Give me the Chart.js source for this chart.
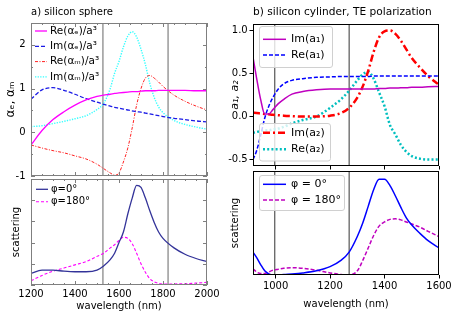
<!DOCTYPE html>
<html>
<head>
<meta charset="utf-8">
<script src="https://cdn.jsdelivr.net/npm/chart.js@4.4.0/dist/chart.umd.min.js"></script>
<style>
  html, body { margin: 0; padding: 0; background: #fff; }
  #wrap { position: relative; width: 452px; height: 315px; }
  #wrap canvas { position: absolute; left: 0; top: 0; }
</style>
</head>
<body>
<div id="wrap">
  <canvas id="sphereTop" width="452" height="315"></canvas>
  <canvas id="sphereScat" width="452" height="315"></canvas>
  <canvas id="cylTop" width="452" height="315"></canvas>
  <canvas id="cylScat" width="452" height="315"></canvas>
</div>
<script>
// a) silicon sphere, wavelength in nm
const sphereWl  = [1200, 1250, 1300, 1350, 1400, 1450, 1500, 1530, 1560, 1580, 1600, 1620, 1640, 1660, 1680, 1700, 1720, 1740, 1760, 1780, 1800, 1850, 1900, 1950, 2000];
const reAlphaE  = [-0.29, 0.04, 0.29, 0.47, 0.62, 0.74, 0.82, 0.85, 0.87, 0.89, 0.90, 0.91, 0.92, 0.93, 0.93, 0.94, 0.95, 0.95, 0.95, 0.96, 0.96, 0.96, 0.96, 0.95, 0.95];
const imAlphaE  = [0.76, 0.97, 1.02, 0.96, 0.87, 0.77, 0.69, 0.64, 0.60, 0.57, 0.55, 0.53, 0.51, 0.49, 0.47, 0.46, 0.44, 0.42, 0.40, 0.38, 0.36, 0.32, 0.29, 0.26, 0.24];
const reAlphaM  = [-0.29, -0.36, -0.42, -0.47, -0.54, -0.61, -0.73, -0.83, -0.93, -0.98, -0.93, -0.68, -0.36, 0.10, 0.62, 1.00, 1.24, 1.30, 1.24, 1.15, 1.05, 0.85, 0.71, 0.60, 0.51];
const imAlphaM  = [0.13, 0.15, 0.20, 0.25, 0.31, 0.38, 0.52, 0.66, 1.00, 1.35, 1.62, 1.95, 2.20, 2.30, 2.18, 1.90, 1.55, 1.12, 0.80, 0.58, 0.45, 0.27, 0.18, 0.12, 0.07];
const sphereScat0   = [0.11, 0.14, 0.14, 0.13, 0.125, 0.125, 0.14, 0.18, 0.24, 0.30, 0.40, 0.50, 0.67, 0.82, 0.94, 0.92, 0.82, 0.70, 0.59, 0.50, 0.44, 0.35, 0.29, 0.25, 0.22];
const sphereScat180 = [0.04, 0.09, 0.13, 0.16, 0.19, 0.22, 0.27, 0.30, 0.35, 0.38, 0.42, 0.45, 0.44, 0.39, 0.30, 0.20, 0.12, 0.06, 0.03, 0.015, 0.01, 0.01, 0.012, 0.018, 0.025];
const sphereMarks = [1527, 1823];
const sphereYTicks = [-1, 0, 1, 2];
const sphereXTicks = [1200, 1400, 1600, 1800, 2000];

// b) silicon cylinder, TE polarization
const cylWl = [917, 930, 945, 960, 975, 990, 1010, 1030, 1060, 1100, 1150, 1200, 1240, 1270, 1300, 1320, 1340, 1360, 1380, 1400, 1420, 1440, 1460, 1480, 1500, 1530, 1560, 1600];
const imA1  = [0.69, 0.45, 0.20, 0.03, 0.03, 0.08, 0.15, 0.20, 0.26, 0.29, 0.31, 0.32, 0.32, 0.32, 0.32, 0.32, 0.32, 0.32, 0.325, 0.325, 0.33, 0.33, 0.335, 0.335, 0.34, 0.34, 0.345, 0.35];
const reA1  = [-0.50, -0.40, -0.22, -0.02, 0.12, 0.22, 0.32, 0.38, 0.42, 0.44, 0.455, 0.46, 0.465, 0.465, 0.465, 0.465, 0.465, 0.47, 0.47, 0.47, 0.47, 0.47, 0.47, 0.47, 0.47, 0.47, 0.47, 0.47];
const imA2  = [0.045, 0.04, 0.035, 0.03, 0.025, 0.02, 0.015, 0.01, 0.005, 0.0, 0.0, 0.01, 0.04, 0.10, 0.22, 0.35, 0.53, 0.75, 0.92, 0.99, 1.00, 0.96, 0.88, 0.78, 0.68, 0.57, 0.47, 0.37];
const reA2  = [-0.19, -0.18, -0.17, -0.16, -0.16, -0.15, -0.14, -0.12, -0.08, -0.04, 0.00, 0.10, 0.20, 0.30, 0.42, 0.49, 0.52, 0.44, 0.28, 0.12, -0.10, -0.21, -0.33, -0.41, -0.46, -0.49, -0.50, -0.50];
const cylScat0   = [0.22, 0.17, 0.10, 0.04, 0.01, 0.0, 0.0, 0.005, 0.01, 0.02, 0.04, 0.08, 0.14, 0.22, 0.37, 0.50, 0.66, 0.82, 0.92, 0.92, 0.86, 0.76, 0.65, 0.55, 0.48, 0.40, 0.33, 0.26];
const cylScat180 = [0.06, 0.03, 0.015, 0.015, 0.03, 0.045, 0.055, 0.065, 0.07, 0.065, 0.045, 0.02, 0.005, 0.0, 0.04, 0.14, 0.26, 0.38, 0.47, 0.51, 0.535, 0.54, 0.53, 0.51, 0.49, 0.46, 0.42, 0.37];
const cylMarks = [997, 1270];
const cylYTicks = [-0.5, 0.0, 0.5, 1.0];
const cylXTicks = [1000, 1200, 1400, 1600];

Chart.defaults.color = '#000';
Chart.defaults.font.family = 'DejaVu Sans';

function pts(xs, ys) {
  return xs.map((x, i) => ({ x: x, y: ys[i] }));
}

function curve(label, ys, xs, color, width, dash) {
  return {
    label: label, data: pts(xs, ys), borderColor: color, borderWidth: width,
    borderDash: dash || [], pointRadius: 0, cubicInterpolationMode: 'monotone', fill: false
  };
}

function marks(xs, lo, hi, color) {
  return xs.map(x => ({
    label: '', data: [{ x: x, y: lo }, { x: x, y: hi }],
    borderColor: color, borderWidth: 1, pointRadius: 0, fill: false
  }));
}

// box around the plot area, optional inward (gnuplot style) ticks
const frame = {
  id: 'frame',
  afterDatasetsDraw(chart, args, o) {
    if (!o.color) return;
    const { ctx, chartArea: a } = chart;
    ctx.save();
    ctx.strokeStyle = o.color;
    ctx.lineWidth = 1;
    ctx.strokeRect(a.left + 0.5, a.top + 0.5, a.right - a.left - 1, a.bottom - a.top - 1);
    if (o.inner) {
      const x = chart.scales.x, y = chart.scales.y, t = o.inner;
      const major = (v, m) => Math.abs(v / m - Math.round(v / m)) < 1e-6;
      ctx.beginPath();
      for (let v = x.min; v <= x.max + 1e-6; v += t.xMinor) {
        const px = Math.round(x.getPixelForValue(v)) + 0.5;
        const len = major(v, t.xMajor) ? 4 : 2;
        ctx.moveTo(px, a.bottom); ctx.lineTo(px, a.bottom - len);
        ctx.moveTo(px, a.top); ctx.lineTo(px, a.top + len);
      }
      for (let v = Math.ceil(y.min / t.yMinor) * t.yMinor; v <= y.max + 1e-6; v += t.yMinor) {
        const py = Math.round(y.getPixelForValue(v)) + 0.5;
        const len = major(v, t.yMajor) ? 4 : 2;
        ctx.moveTo(a.left, py); ctx.lineTo(a.left + len, py);
        ctx.moveTo(a.right, py); ctx.lineTo(a.right - len, py);
      }
      ctx.stroke();
    }
    ctx.restore();
  }
};

// legends placed inside the plot area
const boxLegend = {
  id: 'boxLegend',
  afterDraw(chart, args, o) {
    if (!o.groups) return;
    const { ctx, chartArea: a } = chart;
    ctx.save();
    o.groups.forEach(g => {
      if (g.w) {
        ctx.beginPath();
        ctx.roundRect(a.left + g.x + 0.5, a.top + g.y + 0.5, g.w, g.h, 2.5);
        ctx.fillStyle = 'rgba(255,255,255,0.8)';
        ctx.fill();
        ctx.strokeStyle = '#d0d0d0';
        ctx.lineWidth = 1;
        ctx.stroke();
      }
      ctx.font = o.font;
      ctx.textBaseline = 'middle';
      g.items.forEach((idx, k) => {
        const ds = chart.data.datasets[idx];
        const ry = a.top + g.row0 + k * g.rowH;
        ctx.beginPath();
        ctx.setLineDash(ds.borderDash);
        ctx.strokeStyle = ds.borderColor;
        ctx.lineWidth = ds.borderWidth;
        ctx.moveTo(a.left + g.s0, ry);
        ctx.lineTo(a.left + g.s1, ry);
        ctx.stroke();
        ctx.setLineDash([]);
        ctx.fillStyle = '#000';
        ctx.fillText(ds.label, a.left + g.tx, ry);
      });
    });
    ctx.restore();
  }
};

function panel(id, p) {
  const yW = p.l - p.padLeft;
  const title = p.title ? {
    display: true, text: p.title, align: 'start', fullSize: false,
    font: { size: p.titleSize, weight: 'normal' }, padding: { top: p.titleTop, bottom: p.t - p.titleSize * 1.2 - p.titleTop }
  } : { display: false };
  return new Chart(document.getElementById(id), {
    type: 'line',
    data: { datasets: p.datasets },
    options: {
      responsive: false, animation: false, devicePixelRatio: 1,
      events: [],
      layout: { padding: { left: p.padLeft, top: p.title ? 0 : p.t, right: 452 - p.r, bottom: 315 - p.b - p.xH } },
      scales: {
        x: {
          type: 'linear', min: p.xMin, max: p.xMax,
          afterBuildTicks: s => { s.ticks = p.xTicks.map(v => ({ value: v })); },
          ticks: { display: p.xLabels, padding: p.xPad, font: { size: p.tickSize }, callback: v => String(v) },
          grid: p.outTicks ? { drawOnChartArea: false, color: '#000', tickLength: 3.5 } : { display: false, drawTicks: false },
          border: { display: false },
          title: p.xTitle ? { display: true, text: p.xTitle, font: { size: 10 }, padding: { top: 0, bottom: p.xTitlePad } } : { display: false },
          afterFit: s => { s.height = p.xH; s.paddingLeft = 0; s.paddingRight = 0; }
        },
        y: {
          type: 'linear', min: p.yMin, max: p.yMax,
          afterBuildTicks: s => { s.ticks = p.yTicks.map(v => ({ value: v })); },
          ticks: { display: p.yLabels, padding: p.yPad, font: { size: p.tickSize }, callback: p.yFmt },
          grid: p.outTicks && p.yLabels ? { drawOnChartArea: false, color: '#000', tickLength: 3.5 } : { display: false, drawTicks: false },
          border: { display: false },
          title: { display: true, text: p.yTitle, font: p.yTitleFont, padding: { top: p.yTitlePad, bottom: 0 } },
          afterFit: s => { s.width = yW; s.paddingTop = 0; s.paddingBottom = 0; }
        }
      },
      plugins: {
        legend: { display: false },
        tooltip: { enabled: false },
        title: title,
        frame: p.frame,
        boxLegend: p.legend
      }
    },
    plugins: [frame, boxLegend]
  });
}

// ---- left column: gnuplot-like look ----
const grey = '#7f7f7f';
panel('sphereTop', {
  l: 31, t: 23, r: 207, b: 176, padLeft: 0, xH: 2, titleTop: 6.5, titleSize: 10,
  title: 'a) silicon sphere',
  datasets: [
    curve('Re(\u03b1\u2091)/a\u00b3', reAlphaE, sphereWl, '#ff00ff', 1.3),
    curve('Im(\u03b1\u2091)/a\u00b3', imAlphaE, sphereWl, '#1a1ae6', 1.3, [4, 2]),
    curve('Re(\u03b1\u2098)/a\u00b3', reAlphaM, sphereWl, '#ff2020', 1, [3, 1.5, 1, 1.5]),
    curve('Im(\u03b1\u2098)/a\u00b3', imAlphaM, sphereWl, '#33ffff', 1.4, [1.3, 1.3])
  ].concat(marks(sphereMarks, -1, 2.5, '#666')),
  xMin: 1200, xMax: 2000, xTicks: sphereXTicks, xLabels: false,
  yMin: -1, yMax: 2.5, yTicks: sphereYTicks, yLabels: true, yPad: 5.5, yFmt: v => String(v),
  tickSize: 10, outTicks: false,
  yTitle: '\u03b1\u2091, \u03b1\u2098', yTitleFont: { size: 12 }, yTitlePad: 3.3,
  frame: { color: grey, inner: { xMinor: 50, xMajor: 200, yMinor: 0.5, yMajor: 1 } },
  legend: { font: '10.5px DejaVu Sans', groups: [{ x: 0, y: 0, row0: 8, rowH: 15.3, s0: 4, s1: 16, tx: 19, items: [0, 1, 2, 3] }] }
});

panel('sphereScat', {
  l: 31, t: 179, r: 207, b: 285, padLeft: 0, xH: 30,
  datasets: [
    curve('\u03c6=0\u00b0', sphereScat0, sphereWl, '#333399', 1.3),
    curve('\u03c6=180\u00b0', sphereScat180, sphereWl, '#ff00ff', 1.1, [3, 2])
  ].concat(marks(sphereMarks, 0, 1, '#666')),
  xMin: 1200, xMax: 2000, xTicks: sphereXTicks, xLabels: true, xPad: 3,
  xTitle: 'wavelength (nm)', xTitlePad: 2.3,
  yMin: 0, yMax: 1, yTicks: [0, 1], yLabels: false, yFmt: v => '',
  tickSize: 10, outTicks: false,
  yTitle: 'scattering', yTitleFont: { size: 10 }, yTitlePad: 10.5,
  frame: { color: grey, inner: { xMinor: 50, xMajor: 200, yMinor: 0.2, yMajor: 0.2 } },
  legend: { font: '10px DejaVu Sans', groups: [{ x: 0, y: 0, row0: 10.3, rowH: 12.4, s0: 5, s1: 17, tx: 20, items: [0, 1] }] }
});

// ---- right column: matplotlib-like look ----
panel('cylTop', {
  l: 253, t: 24, r: 439, b: 166, padLeft: 226, xH: 4, titleTop: 5.7, titleSize: 10.6,
  title: 'b) silicon cylinder, TE polarization',
  datasets: [
    curve('Im(a\u2081)', imA1, cylWl, '#bf00bf', 1.5),
    curve('Re(a\u2081)', reA1, cylWl, '#0000ff', 1.5, [4, 2]),
    curve('Im(a\u2082)', imA2, cylWl, '#ff0000', 2.5, [7, 3, 2, 3]),
    curve('Re(a\u2082)', reA2, cylWl, '#00bfbf', 2.5, [2, 2.2])
  ].concat(marks(cylMarks, -0.575, 1.075, '#333')),
  xMin: 917, xMax: 1600, xTicks: cylXTicks, xLabels: false,
  yMin: -0.575, yMax: 1.075, yTicks: cylYTicks, yLabels: true, yPad: 1.8, yFmt: v => v.toFixed(1),
  tickSize: 10, outTicks: true,
  yTitle: 'a\u2081, a\u2082', yTitleFont: { size: 11, style: 'italic' }, yTitlePad: 2.4,
  frame: { color: '#000' },
  legend: { font: '11px DejaVu Sans', groups: [
    { x: 6, y: 2, w: 73, h: 41, row0: 15.3, rowH: 15.7, s0: 10, s1: 33, tx: 38, items: [0, 1] },
    { x: 6, y: 99, w: 71, h: 37.5, row0: 108.7, rowH: 16.6, s0: 10, s1: 33, tx: 38, items: [2, 3] }
  ] }
});

panel('cylScat', {
  l: 253, t: 171, r: 439, b: 275, padLeft: 226, xH: 40,
  datasets: [
    curve('\u03c6 = 0\u00b0', cylScat0, cylWl, '#0000ff', 1.5),
    curve('\u03c6 = 180\u00b0', cylScat180, cylWl, '#bf00bf', 1.5, [4, 2])
  ].concat(marks(cylMarks, 0, 1, '#333')),
  xMin: 917, xMax: 1600, xTicks: cylXTicks, xLabels: true, xPad: 2.2,
  xTitle: 'wavelength (nm)', xTitlePad: 5,
  yMin: 0, yMax: 1, yTicks: [0, 1], yLabels: false, yFmt: v => '',
  tickSize: 10, outTicks: true,
  yTitle: 'scattering', yTitleFont: { size: 10 }, yTitlePad: 3,
  frame: { color: '#000' },
  legend: { font: '11px DejaVu Sans', groups: [
    { x: 6, y: 4, w: 85, h: 35, row0: 13.3, rowH: 15.7, s0: 10, s1: 33, tx: 38, items: [0, 1] }
  ] }
});
</script>
</body>
</html>
